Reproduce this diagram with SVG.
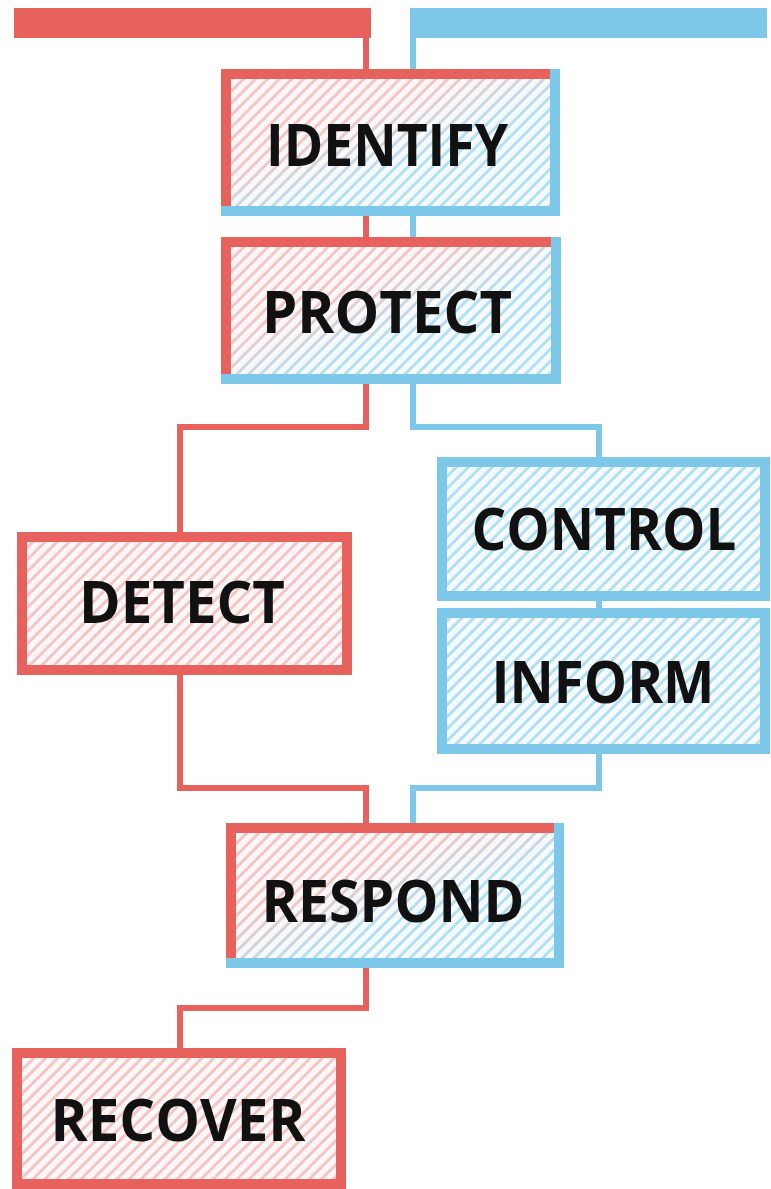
<svg xmlns="http://www.w3.org/2000/svg" width="771" height="1189" viewBox="0 0 771 1189">
  <style>
    .red { stroke: #E7625C; fill: none; }
    .blue { stroke: #7DC7E8; fill: none; }
    .conn { stroke-width: 6; stroke-linejoin: miter; }
    .border { stroke-width: 10; stroke-linecap: square; stroke-linejoin: miter; }
    .label { font-family: "Open Sans", "Liberation Sans", sans-serif; font-weight: bold; font-size: 59px; fill: #111111; text-anchor: middle; }
  </style>
  <defs>
    <linearGradient id="gMix" x1="0" y1="0" x2="1" y2="1">
      <stop offset="0.35" stop-color="#F2C6C7"/>
      <stop offset="0.6" stop-color="#B3E0F1"/>
    </linearGradient>
    <linearGradient id="gRed" x1="0" y1="0" x2="1" y2="1">
      <stop offset="0" stop-color="#F2C6C7"/>
      <stop offset="1" stop-color="#F2C6C7"/>
    </linearGradient>
    <linearGradient id="gBlue" x1="0" y1="0" x2="1" y2="1">
      <stop offset="0" stop-color="#B3E0F1"/>
      <stop offset="1" stop-color="#B3E0F1"/>
    </linearGradient>
    <pattern id="stripes" patternUnits="userSpaceOnUse" width="8.5" height="8.5" patternTransform="rotate(45)">
      <rect x="0" y="0" width="5.5" height="8.5" fill="#FFFFFF" fill-opacity="0.85"/>
    </pattern>
  </defs>

  <g id="connectors">
    <rect x="14" y="8" width="357" height="30" fill="#E7625C"/>
    <rect x="410" y="8" width="357" height="30" fill="#7DC7E8"/>
    <path class="red conn" d="M366,38 V74"/>
    <path class="blue conn" d="M413,38 V74"/>
    <path class="red conn" d="M366,211 V242"/>
    <path class="blue conn" d="M413,211 V242"/>
    <path class="red conn" d="M366,379 V427 H180 V537"/>
    <path class="blue conn" d="M413,379 V427 H599 V462"/>
    <path class="blue conn" d="M599,596 V613"/>
    <path class="red conn" d="M180,670 V788 H366 V828"/>
    <path class="blue conn" d="M599,749 V788 H413 V828"/>
    <path class="red conn" d="M366,963 V1008 H180 V1053"/>
  </g>

  <g id="identify">
    <rect x="226" y="74" width="329" height="137" fill="url(#gMix)"/>
    <rect x="226" y="74" width="329" height="137" fill="url(#stripes)"/>
    <path class="red border" d="M226,211 V74 H555"/>
    <path class="blue border" d="M555,74 V211 H226"/>
    <text class="label" x="387" y="166" textLength="242" lengthAdjust="spacingAndGlyphs">IDENTIFY</text>
  </g>

  <g id="protect">
    <rect x="226" y="242" width="330" height="137" fill="url(#gMix)"/>
    <rect x="226" y="242" width="330" height="137" fill="url(#stripes)"/>
    <path class="red border" d="M226,379 V242 H556"/>
    <path class="blue border" d="M556,242 V379 H226"/>
    <text class="label" x="387" y="333" textLength="250" lengthAdjust="spacingAndGlyphs">PROTECT</text>
  </g>

  <g id="detect">
    <rect x="22" y="537" width="325" height="133" fill="url(#gRed)"/>
    <rect x="22" y="537" width="325" height="133" fill="url(#stripes)"/>
    <rect class="red border" x="22" y="537" width="325" height="133"/>
    <text class="label" x="182" y="623" textLength="206" lengthAdjust="spacingAndGlyphs">DETECT</text>
  </g>

  <g id="control">
    <rect x="442" y="462" width="323" height="134" fill="url(#gBlue)"/>
    <rect x="442" y="462" width="323" height="134" fill="url(#stripes)"/>
    <rect class="blue border" x="442" y="462" width="323" height="134"/>
    <text class="label" x="604" y="550" textLength="265" lengthAdjust="spacingAndGlyphs">CONTROL</text>
  </g>

  <g id="inform">
    <rect x="442" y="613" width="323" height="136" fill="url(#gBlue)"/>
    <rect x="442" y="613" width="323" height="136" fill="url(#stripes)"/>
    <rect class="blue border" x="442" y="613" width="323" height="136"/>
    <text class="label" x="603" y="703" textLength="223" lengthAdjust="spacingAndGlyphs">INFORM</text>
  </g>

  <g id="respond">
    <rect x="231" y="828" width="328" height="135" fill="url(#gMix)"/>
    <rect x="231" y="828" width="328" height="135" fill="url(#stripes)"/>
    <path class="red border" d="M231,963 V828 H559"/>
    <path class="blue border" d="M559,828 V963 H231"/>
    <text class="label" x="393" y="922" textLength="263" lengthAdjust="spacingAndGlyphs">RESPOND</text>
  </g>

  <g id="recover">
    <rect x="17" y="1053" width="324" height="131" fill="url(#gRed)"/>
    <rect x="17" y="1053" width="324" height="131" fill="url(#stripes)"/>
    <rect class="red border" x="17" y="1053" width="324" height="131"/>
    <text class="label" x="178" y="1141" textLength="255" lengthAdjust="spacingAndGlyphs">RECOVER</text>
  </g>
</svg>
